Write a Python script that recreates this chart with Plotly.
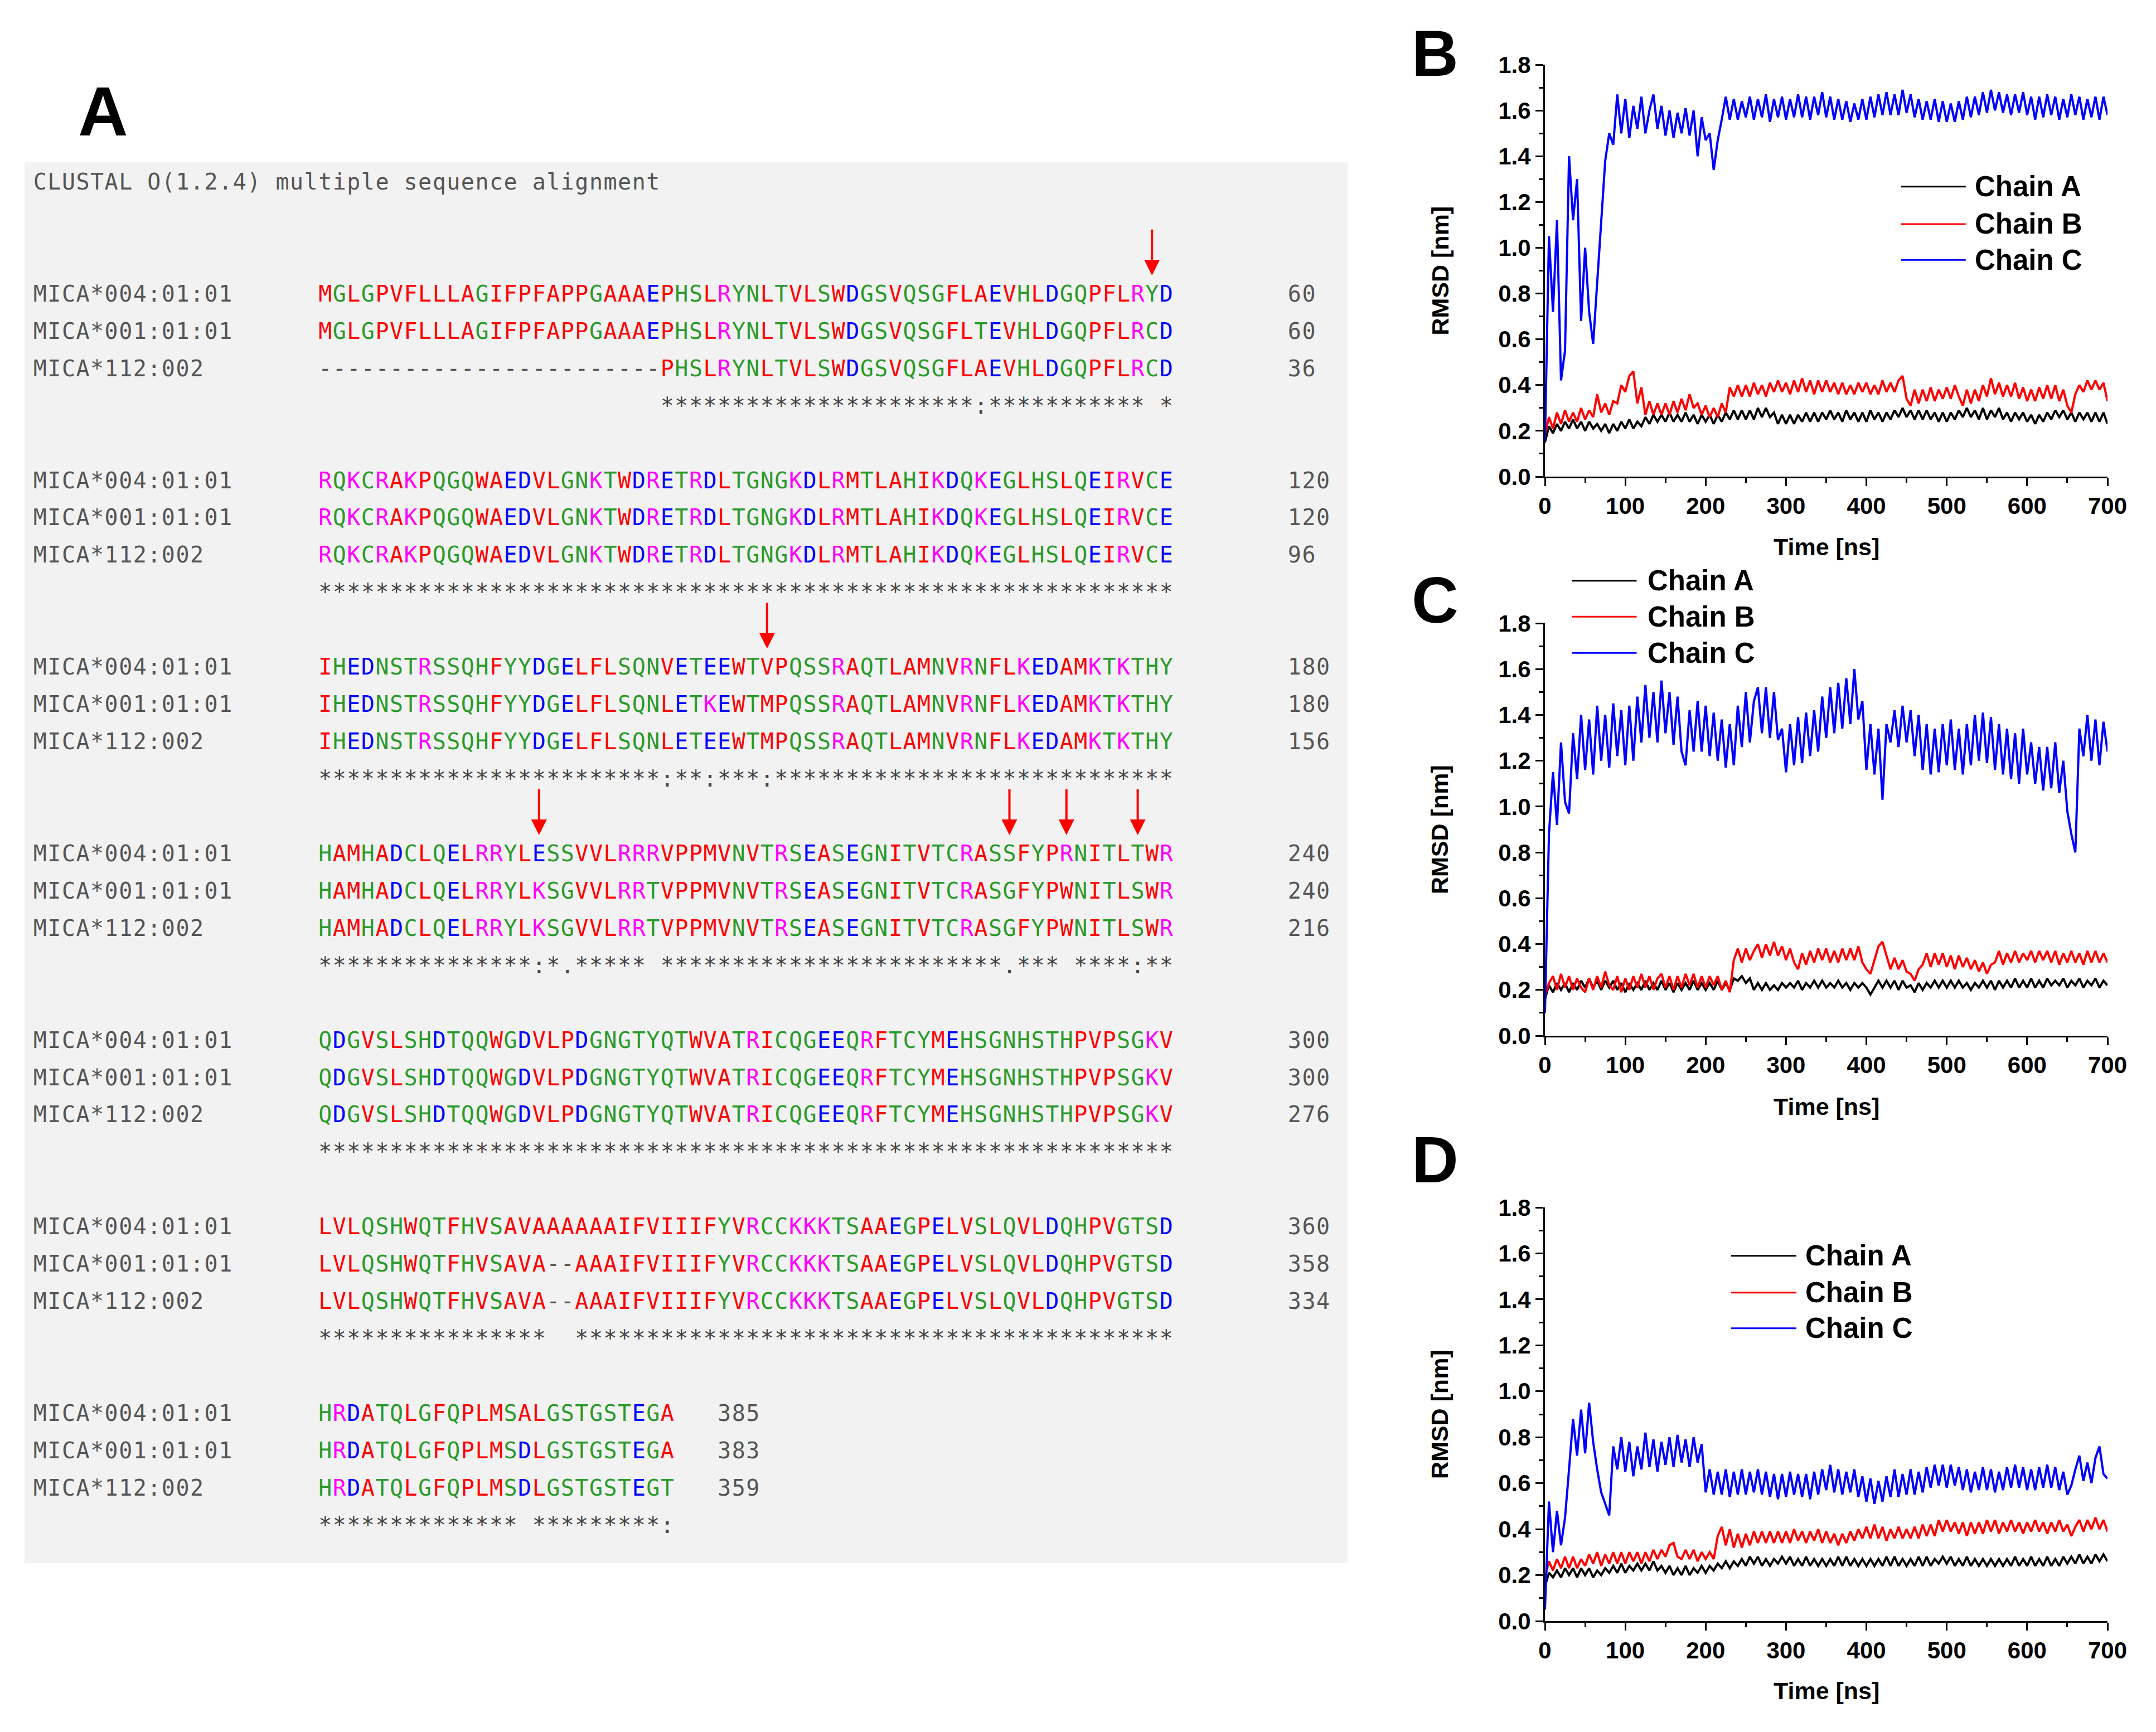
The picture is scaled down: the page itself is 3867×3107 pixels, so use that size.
import plotly.graph_objs as go

W, H = 3867, 3107

# ---------------- panel A : clustal alignment ----------------
HEADER = "CLUSTAL O(1.2.4) multiple sequence alignment"
NAMES = ["MICA*004:01:01", "MICA*001:01:01", "MICA*112:002"]

SEQ_004 = [
    "MGLGPVFLLLAGIFPFAPPGAAAEPHSLRYNLTVLSWDGSVQSGFLAEVHLDGQPFLRYD",
    "RQKCRAKPQGQWAEDVLGNKTWDRETRDLTGNGKDLRMTLAHIKDQKEGLHSLQEIRVCE",
    "IHEDNSTRSSQHFYYDGELFLSQNVETEEWTVPQSSRAQTLAMNVRNFLKEDAMKTKTHY",
    "HAMHADCLQELRRYLESSVVLRRRVPPMVNVTRSEASEGNITVTCRASSFYPRNITLTWR",
    "QDGVSLSHDTQQWGDVLPDGNGTYQTWVATRICQGEEQRFTCYMEHSGNHSTHPVPSGKV",
    "LVLQSHWQTFHVSAVAAAAAAIFVIIIFYVRCCKKKTSAAEGPELVSLQVLDQHPVGTSD",
    "HRDATQLGFQPLMSALGSTGSTEGA",
]
SEQ_001 = [
    "MGLGPVFLLLAGIFPFAPPGAAAEPHSLRYNLTVLSWDGSVQSGFLTEVHLDGQPFLRCD",
    "RQKCRAKPQGQWAEDVLGNKTWDRETRDLTGNGKDLRMTLAHIKDQKEGLHSLQEIRVCE",
    "IHEDNSTRSSQHFYYDGELFLSQNLETKEWTMPQSSRAQTLAMNVRNFLKEDAMKTKTHY",
    "HAMHADCLQELRRYLKSGVVLRRTVPPMVNVTRSEASEGNITVTCRASGFYPWNITLSWR",
    "QDGVSLSHDTQQWGDVLPDGNGTYQTWVATRICQGEEQRFTCYMEHSGNHSTHPVPSGKV",
    "LVLQSHWQTFHVSAVA--AAAIFVIIIFYVRCCKKKTSAAEGPELVSLQVLDQHPVGTSD",
    "HRDATQLGFQPLMSDLGSTGSTEGA",
]
SEQ_112 = [
    "------------------------PHSLRYNLTVLSWDGSVQSGFLAEVHLDGQPFLRCD",
    "RQKCRAKPQGQWAEDVLGNKTWDRETRDLTGNGKDLRMTLAHIKDQKEGLHSLQEIRVCE",
    "IHEDNSTRSSQHFYYDGELFLSQNLETEEWTMPQSSRAQTLAMNVRNFLKEDAMKTKTHY",
    "HAMHADCLQELRRYLKSGVVLRRTVPPMVNVTRSEASEGNITVTCRASGFYPWNITLSWR",
    "QDGVSLSHDTQQWGDVLPDGNGTYQTWVATRICQGEEQRFTCYMEHSGNHSTHPVPSGKV",
    "LVLQSHWQTFHVSAVA--AAAIFVIIIFYVRCCKKKTSAAEGPELVSLQVLDQHPVGTSD",
    "HRDATQLGFQPLMSDLGSTGSTEGT",
]
CONSENSUS = [
    " " * 24 + "*" * 22 + ":" + "*" * 11 + " *",
    "*" * 60,
    "*" * 24 + ":**:***:" + "*" * 28,
    "*" * 15 + ":*." + "*" * 5 + " " + "*" * 24 + ".***" + " ****:**",
    "*" * 60,
    "*" * 16 + "  " + "*" * 42,
    "*" * 14 + " " + "*" * 9 + ":",
]
# alignment columns marked with red arrows
ARROW_COLS = [59, 152, 196, 229, 233, 238]

RESIDUE_COLOURS = {"AVFPMILW": "#ff0000", "DE": "#0000ff", "RK": "#ff00ff", "STYHCNGQ": "#2b9a2b"}
TEXT_GREY = "#555555"

# ---------------- panels B, C, D : RMSD (read every 5 ns) ----------------
TIME_NS = list(range(0, 701, 5))
CHAIN_NAMES = ["Chain A", "Chain B", "Chain C"]
CHAIN_COLOURS = ["#000000", "#ff0000", "#0000ff"]

B_CHAIN_A = [
    0.15, 0.22, 0.19, 0.23, 0.20, 0.24, 0.21, 0.25, 0.21, 0.24,
    0.20, 0.24, 0.21, 0.23, 0.20, 0.23, 0.19, 0.23, 0.20, 0.24,
    0.21, 0.25, 0.21, 0.24, 0.22, 0.26, 0.23, 0.27, 0.24, 0.27,
    0.24, 0.28, 0.24, 0.27, 0.24, 0.28, 0.24, 0.27, 0.23, 0.27,
    0.24, 0.27, 0.23, 0.27, 0.24, 0.28, 0.25, 0.29, 0.25, 0.29,
    0.25, 0.29, 0.25, 0.30, 0.26, 0.30, 0.26, 0.28, 0.23, 0.27,
    0.23, 0.27, 0.23, 0.27, 0.24, 0.28, 0.24, 0.28, 0.24, 0.28,
    0.25, 0.29, 0.25, 0.28, 0.24, 0.29, 0.25, 0.28, 0.24, 0.28,
    0.24, 0.29, 0.25, 0.28, 0.24, 0.28, 0.25, 0.29, 0.26, 0.30,
    0.26, 0.29, 0.25, 0.29, 0.25, 0.29, 0.25, 0.28, 0.24, 0.28,
    0.24, 0.28, 0.25, 0.29, 0.26, 0.30, 0.26, 0.29, 0.25, 0.30,
    0.25, 0.29, 0.26, 0.30, 0.25, 0.28, 0.24, 0.28, 0.25, 0.28,
    0.24, 0.27, 0.23, 0.27, 0.24, 0.28, 0.25, 0.29, 0.26, 0.29,
    0.25, 0.28, 0.24, 0.28, 0.25, 0.28, 0.24, 0.28, 0.24, 0.28,
    0.23,
]
B_CHAIN_B = [
    0.18, 0.26, 0.21, 0.28, 0.23, 0.29, 0.24, 0.28, 0.24, 0.30,
    0.25, 0.29, 0.26, 0.36, 0.28, 0.32, 0.27, 0.33, 0.32, 0.40,
    0.37, 0.44, 0.46, 0.32, 0.39, 0.27, 0.33, 0.27, 0.32, 0.27,
    0.32, 0.27, 0.33, 0.28, 0.34, 0.29, 0.36, 0.30, 0.32, 0.27,
    0.31, 0.26, 0.30, 0.26, 0.32, 0.28, 0.39, 0.35, 0.40, 0.35,
    0.40, 0.35, 0.41, 0.36, 0.40, 0.35, 0.41, 0.37, 0.42, 0.37,
    0.41, 0.36, 0.42, 0.37, 0.43, 0.37, 0.42, 0.36, 0.42, 0.37,
    0.42, 0.37, 0.41, 0.36, 0.41, 0.36, 0.40, 0.36, 0.41, 0.37,
    0.41, 0.36, 0.40, 0.36, 0.42, 0.37, 0.41, 0.37, 0.42, 0.44,
    0.34, 0.31, 0.38, 0.32, 0.38, 0.33, 0.39, 0.33, 0.38, 0.34,
    0.39, 0.34, 0.40, 0.35, 0.31, 0.38, 0.32, 0.38, 0.33, 0.40,
    0.35, 0.43, 0.36, 0.41, 0.35, 0.40, 0.35, 0.41, 0.34, 0.39,
    0.33, 0.38, 0.33, 0.39, 0.34, 0.40, 0.34, 0.40, 0.33, 0.38,
    0.31, 0.28, 0.36, 0.40, 0.37, 0.42, 0.38, 0.42, 0.38, 0.41,
    0.33,
]
B_CHAIN_C = [
    0.15, 1.05, 0.72, 1.12, 0.42, 0.55, 1.40, 1.12, 1.30, 0.68,
    1.00, 0.72, 0.58, 0.85, 1.10, 1.38, 1.50, 1.45, 1.67, 1.50,
    1.65, 1.48, 1.62, 1.52, 1.66, 1.50, 1.60, 1.67, 1.52, 1.62,
    1.49, 1.60, 1.48, 1.59, 1.50, 1.61, 1.49, 1.60, 1.40, 1.57,
    1.47, 1.50, 1.34, 1.47, 1.56, 1.66, 1.56, 1.65, 1.56, 1.64,
    1.57, 1.66, 1.56, 1.65, 1.57, 1.67, 1.55, 1.65, 1.57, 1.66,
    1.56, 1.65, 1.57, 1.67, 1.57, 1.66, 1.56, 1.66, 1.58, 1.68,
    1.57, 1.66, 1.56, 1.65, 1.56, 1.64, 1.55, 1.63, 1.56, 1.65,
    1.56, 1.66, 1.57, 1.67, 1.58, 1.68, 1.58, 1.67, 1.58, 1.69,
    1.59, 1.67, 1.57, 1.65, 1.56, 1.64, 1.56, 1.65, 1.55, 1.64,
    1.55, 1.63, 1.55, 1.64, 1.56, 1.66, 1.57, 1.66, 1.58, 1.68,
    1.59, 1.69, 1.60, 1.68, 1.59, 1.67, 1.58, 1.67, 1.59, 1.68,
    1.58, 1.66, 1.56, 1.66, 1.57, 1.67, 1.58, 1.66, 1.56, 1.65,
    1.57, 1.67, 1.58, 1.66, 1.56, 1.65, 1.57, 1.66, 1.56, 1.66,
    1.58,
]

C_CHAIN_A = [
    0.16, 0.22, 0.19, 0.23, 0.20, 0.23, 0.19, 0.23, 0.20, 0.24,
    0.21, 0.25, 0.21, 0.24, 0.20, 0.24, 0.21, 0.24, 0.20, 0.23,
    0.19, 0.23, 0.20, 0.23, 0.20, 0.24, 0.20, 0.23, 0.20, 0.24,
    0.20, 0.23, 0.19, 0.23, 0.20, 0.23, 0.20, 0.24, 0.20, 0.23,
    0.20, 0.23, 0.20, 0.24, 0.20, 0.23, 0.20, 0.25, 0.24, 0.26,
    0.23, 0.25, 0.20, 0.23, 0.20, 0.23, 0.20, 0.22, 0.20, 0.23,
    0.21, 0.23, 0.21, 0.24, 0.20, 0.23, 0.21, 0.24, 0.21, 0.24,
    0.21, 0.23, 0.21, 0.24, 0.21, 0.23, 0.20, 0.23, 0.21, 0.23,
    0.21, 0.18, 0.21, 0.24, 0.21, 0.24, 0.21, 0.24, 0.20, 0.24,
    0.21, 0.22, 0.19, 0.23, 0.20, 0.23, 0.21, 0.24, 0.21, 0.24,
    0.21, 0.24, 0.21, 0.24, 0.21, 0.23, 0.20, 0.23, 0.21, 0.24,
    0.21, 0.24, 0.20, 0.24, 0.21, 0.24, 0.21, 0.25, 0.21, 0.24,
    0.21, 0.25, 0.21, 0.24, 0.21, 0.25, 0.22, 0.24, 0.22, 0.25,
    0.21, 0.24, 0.22, 0.25, 0.21, 0.24, 0.22, 0.25, 0.21, 0.24,
    0.22,
]
C_CHAIN_B = [
    0.17, 0.23, 0.26, 0.20, 0.27, 0.21, 0.26, 0.20, 0.25, 0.21,
    0.19, 0.25, 0.20, 0.26, 0.21, 0.28, 0.22, 0.20, 0.26, 0.19,
    0.25, 0.20, 0.26, 0.21, 0.27, 0.21, 0.26, 0.20, 0.25, 0.27,
    0.21, 0.26, 0.20, 0.26, 0.21, 0.27, 0.22, 0.27, 0.21, 0.26,
    0.21, 0.26, 0.22, 0.26, 0.20, 0.24, 0.19, 0.33, 0.38, 0.32,
    0.38, 0.33, 0.37, 0.40, 0.34, 0.40, 0.35, 0.41, 0.35, 0.39,
    0.33, 0.38, 0.32, 0.29, 0.36, 0.31, 0.37, 0.32, 0.38, 0.33,
    0.38, 0.32, 0.37, 0.32, 0.38, 0.33, 0.38, 0.33, 0.39, 0.32,
    0.29, 0.27, 0.33, 0.39, 0.41, 0.35, 0.29, 0.34, 0.29, 0.33,
    0.28, 0.27, 0.24, 0.29, 0.31, 0.36, 0.30, 0.36, 0.31, 0.36,
    0.30, 0.35, 0.29, 0.35, 0.30, 0.34, 0.29, 0.33, 0.28, 0.32,
    0.27, 0.31, 0.32, 0.37, 0.31, 0.36, 0.32, 0.37, 0.32, 0.36,
    0.33, 0.37, 0.32, 0.37, 0.33, 0.37, 0.32, 0.37, 0.31, 0.36,
    0.32, 0.37, 0.32, 0.36, 0.31, 0.37, 0.32, 0.37, 0.32, 0.36,
    0.32,
]
C_CHAIN_C = [
    0.10, 0.88, 1.15, 0.92, 1.28, 1.02, 0.97, 1.32, 1.12, 1.40,
    1.16, 1.38, 1.14, 1.44, 1.20, 1.40, 1.17, 1.45, 1.22, 1.42,
    1.18, 1.44, 1.20, 1.48, 1.28, 1.53, 1.30, 1.50, 1.28, 1.55,
    1.32, 1.50, 1.27, 1.48, 1.24, 1.18, 1.42, 1.24, 1.46, 1.24,
    1.44, 1.22, 1.41, 1.20, 1.38, 1.17, 1.36, 1.18, 1.44, 1.26,
    1.50, 1.28, 1.46, 1.52, 1.32, 1.52, 1.30, 1.50, 1.29, 1.34,
    1.15, 1.36, 1.18, 1.39, 1.19, 1.41, 1.22, 1.42, 1.24, 1.48,
    1.30, 1.52, 1.32, 1.54, 1.34, 1.56, 1.36, 1.60, 1.38, 1.46,
    1.16, 1.36, 1.14, 1.34, 1.03, 1.36, 1.28, 1.42, 1.26, 1.44,
    1.28, 1.42, 1.22, 1.40, 1.16, 1.36, 1.14, 1.34, 1.15, 1.36,
    1.18, 1.38, 1.16, 1.34, 1.14, 1.36, 1.18, 1.40, 1.20, 1.41,
    1.19, 1.39, 1.16, 1.36, 1.14, 1.34, 1.12, 1.32, 1.10, 1.34,
    1.14, 1.28, 1.10, 1.26, 1.07, 1.26, 1.08, 1.28, 1.06, 1.20,
    0.98, 0.88, 0.80, 1.34, 1.22, 1.40, 1.20, 1.38, 1.18, 1.37,
    1.24,
]

D_CHAIN_A = [
    0.15, 0.21, 0.19, 0.22, 0.19, 0.23, 0.20, 0.23, 0.19, 0.23,
    0.20, 0.23, 0.19, 0.22, 0.20, 0.23, 0.21, 0.24, 0.21, 0.25,
    0.21, 0.24, 0.22, 0.25, 0.22, 0.25, 0.22, 0.26, 0.22, 0.24,
    0.21, 0.24, 0.20, 0.23, 0.20, 0.24, 0.20, 0.23, 0.21, 0.24,
    0.21, 0.24, 0.22, 0.25, 0.23, 0.26, 0.23, 0.26, 0.24, 0.27,
    0.24, 0.28, 0.25, 0.28, 0.24, 0.27, 0.24, 0.27, 0.25, 0.28,
    0.25, 0.28, 0.24, 0.27, 0.24, 0.28, 0.24, 0.27, 0.24, 0.27,
    0.24, 0.27, 0.24, 0.28, 0.24, 0.28, 0.24, 0.27, 0.24, 0.27,
    0.24, 0.27, 0.24, 0.27, 0.24, 0.28, 0.24, 0.28, 0.24, 0.27,
    0.24, 0.27, 0.24, 0.28, 0.24, 0.28, 0.24, 0.27, 0.25, 0.28,
    0.25, 0.28, 0.24, 0.27, 0.24, 0.28, 0.24, 0.27, 0.24, 0.27,
    0.24, 0.27, 0.24, 0.27, 0.24, 0.27, 0.24, 0.28, 0.24, 0.27,
    0.24, 0.28, 0.24, 0.27, 0.24, 0.28, 0.24, 0.27, 0.24, 0.28,
    0.25, 0.28, 0.25, 0.29, 0.25, 0.28, 0.25, 0.29, 0.26, 0.29,
    0.26,
]
D_CHAIN_B = [
    0.19, 0.26, 0.22, 0.27, 0.23, 0.28, 0.23, 0.28, 0.23, 0.27,
    0.24, 0.29, 0.25, 0.30, 0.24, 0.29, 0.25, 0.30, 0.25, 0.30,
    0.25, 0.30, 0.26, 0.30, 0.25, 0.30, 0.26, 0.31, 0.27, 0.31,
    0.28, 0.33, 0.34, 0.28, 0.27, 0.31, 0.27, 0.31, 0.26, 0.30,
    0.27, 0.30, 0.27, 0.37, 0.41, 0.33, 0.40, 0.32, 0.38, 0.32,
    0.38, 0.33, 0.39, 0.34, 0.39, 0.34, 0.39, 0.34, 0.39, 0.34,
    0.39, 0.34, 0.40, 0.35, 0.39, 0.34, 0.39, 0.35, 0.40, 0.34,
    0.39, 0.34, 0.38, 0.33, 0.38, 0.34, 0.39, 0.35, 0.40, 0.36,
    0.41, 0.36, 0.42, 0.36, 0.41, 0.35, 0.40, 0.36, 0.41, 0.36,
    0.40, 0.36, 0.41, 0.36, 0.42, 0.37, 0.42, 0.37, 0.44, 0.39,
    0.44, 0.39, 0.43, 0.38, 0.43, 0.37, 0.43, 0.38, 0.43, 0.38,
    0.44, 0.39, 0.44, 0.38, 0.43, 0.39, 0.44, 0.39, 0.43, 0.38,
    0.43, 0.39, 0.44, 0.39, 0.43, 0.38, 0.43, 0.39, 0.44, 0.39,
    0.42, 0.37, 0.41, 0.44, 0.39, 0.44, 0.40, 0.45, 0.40, 0.44,
    0.39,
]
D_CHAIN_C = [
    0.05, 0.52, 0.30, 0.48, 0.33, 0.45, 0.66, 0.88, 0.72, 0.92,
    0.73, 0.95, 0.78, 0.66, 0.56, 0.51, 0.46, 0.76, 0.66, 0.80,
    0.65, 0.78, 0.63, 0.76, 0.66, 0.82, 0.67, 0.79, 0.65, 0.78,
    0.68, 0.80, 0.67, 0.81, 0.69, 0.79, 0.67, 0.80, 0.69, 0.77,
    0.56, 0.66, 0.55, 0.65, 0.55, 0.66, 0.54, 0.65, 0.55, 0.66,
    0.55, 0.65, 0.56, 0.66, 0.55, 0.65, 0.54, 0.64, 0.53, 0.64,
    0.54, 0.65, 0.55, 0.64, 0.54, 0.64, 0.53, 0.65, 0.55, 0.66,
    0.57, 0.68, 0.56, 0.66, 0.55, 0.65, 0.56, 0.66, 0.54, 0.63,
    0.52, 0.62, 0.51, 0.61, 0.52, 0.63, 0.54, 0.66, 0.54, 0.64,
    0.55, 0.66, 0.55, 0.65, 0.56, 0.67, 0.58, 0.68, 0.59, 0.68,
    0.58, 0.68, 0.59, 0.67, 0.57, 0.66, 0.56, 0.65, 0.57, 0.67,
    0.57, 0.66, 0.56, 0.65, 0.57, 0.67, 0.58, 0.68, 0.58, 0.67,
    0.57, 0.66, 0.57, 0.67, 0.58, 0.68, 0.58, 0.67, 0.57, 0.65,
    0.55, 0.59, 0.66, 0.72, 0.61, 0.69, 0.60, 0.71, 0.76, 0.64,
    0.62,
]

PANELS = [
    ("B", [B_CHAIN_A, B_CHAIN_B, B_CHAIN_C]),
    ("C", [C_CHAIN_A, C_CHAIN_B, C_CHAIN_C]),
    ("D", [D_CHAIN_A, D_CHAIN_B, D_CHAIN_C]),
]


# pixel -> paper helpers
def px(x):
    return x / W


def py(y):
    return 1 - y / H


def residue_colour(ch):
    for group, col in RESIDUE_COLOURS.items():
        if ch in group:
            return col
    return TEXT_GREY


# ---------- build the character grid of panel A ----------
SEQ_COL = 20
cx, cy, ct, cc = [], [], [], []


def put(text, col, row, colour=None):
    for i, ch in enumerate(text):
        if ch == " ":
            continue
        cx.append(col + i + 0.5)
        cy.append(row)
        ct.append(ch)
        cc.append(colour if colour else residue_colour(ch))


put(HEADER, 0, 0, TEXT_GREY)
counts = [0, 0, 0]
for b in range(len(CONSENSUS)):
    base = 3 + 5 * b
    for k, seqs in enumerate([SEQ_004, SEQ_001, SEQ_112]):
        block = seqs[b]
        counts[k] += len(block.replace("-", ""))
        put(NAMES[k], 0, base + k, TEXT_GREY)
        put(block, SEQ_COL, base + k)
        num_col = ((SEQ_COL + len(block)) // 8 + 1) * 8
        put(str(counts[k]), num_col, base + k, TEXT_GREY)
    put(CONSENSUS[b], SEQ_COL, base + 3, "#444444")

fig = go.Figure()

fig.add_trace(go.Scatter(
    x=cx, y=cy, text=ct, mode="text", xaxis="x4", yaxis="y4",
    textposition="middle center",
    textfont=dict(family="DejaVu Sans Mono", size=40, color=cc),
    hoverinfo="skip", showlegend=False,
))

# ---------- RMSD traces ----------
axis_ids = ["", "2", "3"]
for (label, series), aid in zip(PANELS, axis_ids):
    for name, colour, vals in zip(CHAIN_NAMES, CHAIN_COLOURS, series):
        assert len(vals) == len(TIME_NS), (label, name, len(vals))
        fig.add_trace(go.Scatter(
            x=TIME_NS, y=vals, mode="lines", name=name,
            line=dict(color=colour, width=4),
            xaxis="x" + aid, yaxis="y" + aid, showlegend=False,
        ))

X_DOM = [px(2771), px(3780)]
Y_DOMS = [[py(855), py(116)], [py(1858), py(1118)], [py(2908), py(2166)]]

bold = dict(family="Arial, Liberation Sans", size=42, color="black", weight="bold")
layout = dict(
    width=W, height=H, margin=dict(l=0, r=0, t=0, b=0),
    paper_bgcolor="white", plot_bgcolor="rgba(0,0,0,0)",
    template="none", showlegend=False,
)
for aid, ydom in zip(axis_ids, Y_DOMS):
    layout["xaxis" + aid] = dict(
        domain=X_DOM, range=[0, 700], anchor="y" + aid,
        tick0=0, dtick=100, ticks="outside", ticklen=14, tickwidth=3, tickcolor="black",
        minor=dict(dtick=50, ticks="outside", ticklen=8, tickwidth=3, tickcolor="black"),
        showline=True, linecolor="black", linewidth=3,
        showgrid=False, zeroline=False, tickfont=bold,
    )
    layout["yaxis" + aid] = dict(
        domain=ydom, range=[0, 1.8], anchor="x" + aid,
        tick0=0, dtick=0.2, tickformat=".1f",
        ticks="outside", ticklen=14, tickwidth=3, tickcolor="black",
        minor=dict(dtick=0.1, ticks="outside", ticklen=8, tickwidth=3, tickcolor="black"),
        showline=True, linecolor="black", linewidth=3,
        showgrid=False, zeroline=False, tickfont=bold,
    )

# hidden axes for the alignment text
layout["xaxis4"] = dict(domain=[px(44), px(2417)], range=[-0.587, 92.22],
                        visible=False, anchor="y4")
layout["yaxis4"] = dict(domain=[py(2804), py(291)], range=[36.96, -0.583],
                        visible=False, anchor="x4")
fig.update_layout(**layout)

# grey background of the alignment
fig.add_shape(type="rect", xref="x4 domain", yref="y4 domain", x0=0, x1=1, y0=0, y1=1,
              fillcolor="#f2f2f2", line=dict(width=0), layer="below")

# red arrows over variable positions
for col in ARROW_COLS:
    b, pos = (col - 1) // 60, (col - 1) % 60
    xa = SEQ_COL + pos + 0.5
    row = 3 + 5 * b
    fig.add_annotation(x=xa, y=row - 0.55, ax=xa, ay=row - 1.8,
                       xref="x4", yref="y4", axref="x4", ayref="y4",
                       text="", showarrow=True, arrowhead=2, arrowsize=1.4,
                       arrowwidth=4, arrowcolor="#ff0000", standoff=0)

# panel letters
letter_font = dict(family="Arial, Liberation Sans", size=116, color="black", weight="bold")
fig.add_annotation(x=px(185), y=py(200), xref="paper", yref="paper", text="A",
                   xanchor="center", yanchor="middle",
                   showarrow=False, font=dict(letter_font, size=124))
for (label, _), ypos in zip(PANELS, [96, 1077, 2081]):
    fig.add_annotation(x=px(2574), y=py(ypos), xref="paper", yref="paper", text=label,
                       xanchor="center", yanchor="middle",
                       showarrow=False, font=letter_font)

# axis titles
title_font = dict(family="Arial, Liberation Sans", size=43, color="black", weight="bold")
for ydom, xt_y in zip(Y_DOMS, [981, 1985, 3033]):
    fig.add_annotation(x=(X_DOM[0] + X_DOM[1]) / 2, y=py(xt_y), xref="paper", yref="paper",
                       text="Time [ns]", xanchor="center", yanchor="middle",
                       showarrow=False, font=title_font)
    fig.add_annotation(x=px(2582), y=(ydom[0] + ydom[1]) / 2, xref="paper", yref="paper",
                       text="RMSD [nm]", textangle=-90, xanchor="center", yanchor="middle",
                       showarrow=False, font=title_font)

# hand-placed legends (long line samples like the original)
LEGEND_POS = [  # x0, x1, text x, y of the three rows (axis-domain fractions)
    (0.633, 0.748, 0.762, [0.704, 0.613, 0.526]),
    (0.048, 0.163, 0.180, [1.103, 1.016, 0.928]),
    (0.331, 0.447, 0.461, [0.883, 0.794, 0.708]),
]
legend_font = dict(family="Arial, Liberation Sans", size=51, color="black", weight="bold")
for aid, (x0, x1, xt, ys) in zip(axis_ids, LEGEND_POS):
    for name, colour, yy in zip(CHAIN_NAMES, CHAIN_COLOURS, ys):
        fig.add_shape(type="line", xref="x" + aid + " domain", yref="y" + aid + " domain",
                      x0=x0, x1=x1, y0=yy, y1=yy, line=dict(color=colour, width=3))
        fig.add_annotation(x=xt, y=yy, xref="x" + aid + " domain", yref="y" + aid + " domain",
                           text=name, showarrow=False, xanchor="left", yanchor="middle",
                           font=legend_font)

# drop the browser's default body margin so pixel positions line up
fig.write_html("out.html", config={"displayModeBar": False},
               post_script="document.body.style.margin='0px';")
